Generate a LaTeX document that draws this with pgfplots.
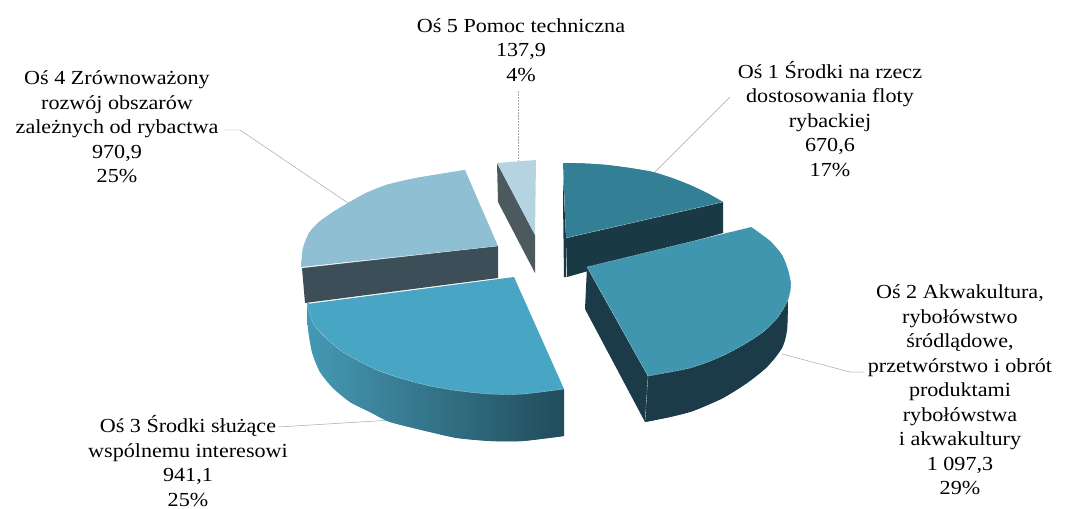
\documentclass[border=0pt]{standalone}
\usepackage{fontspec}
\setmainfont[FakeStretch=1.11]{Liberation Serif}
\usepackage{pgfplots}
\pgfplotsset{compat=1.18}
\definecolor{topa}{HTML}{337F96}\definecolor{sidea}{HTML}{193945}
\definecolor{topb}{HTML}{4095AF}\definecolor{sideb}{HTML}{1A3B47}
\definecolor{topc}{HTML}{48A6C4}\definecolor{sidecl}{HTML}{4599B4}\definecolor{sidecr}{HTML}{214C5B}
\definecolor{topd}{HTML}{8FBFD2}\definecolor{sided}{HTML}{3C4E57}
\definecolor{tope}{HTML}{B5D3E0}\definecolor{sidee}{HTML}{4C5A60}
\definecolor{lead}{HTML}{A6A6A6}
\begin{document}
\begin{tikzpicture}
\path[use as bounding box] (0,0) rectangle (1066bp,509bp);
\begin{axis}[at={(0,0)},anchor=south west,scale only axis,width=1066bp,height=509bp,
  xmin=0,xmax=1066,ymin=0,ymax=509,y dir=reverse,hide axis,clip=false,
  every axis plot/.append style={no markers,line width=0pt},
  edge/.style={white,opacity=0.55,line width=0.4pt,dash pattern=on 2pt off 1pt},
]
% leader lines
\addplot[lead,line width=0.5pt,densely dotted] coordinates {(518,160) (518,90)};
\addplot[lead,line width=0.5pt] coordinates {(348,203) (240,130) (224,130)};
\addplot[lead,line width=0.5pt] coordinates {(655,172) (730,97)};
\addplot[lead,line width=0.5pt] coordinates {(782,354) (850,372) (864,372)};
\addplot[lead,line width=0.5pt] coordinates {(392,420) (278,427)};
% slice 5
\addplot[draw=none,fill=sidee] coordinates {(497,163) (535,235) (535,273) (498,202)};
\addplot[draw=none,fill=tope] coordinates {(497,163) (536,160) (535,235)};
% slice 4
\addplot[draw=none,fill=sided] coordinates {(302,268) (498,246) (498,278) (305,303)};
\addplot[draw=none,fill=topd] coordinates {(498,246) (465,170) (416,178) (386,185) (366,193) (348,203) (333,212) (319,222) (309,233) (303,248) (301,267)};
\addplot[draw=none,fill=topd,smooth] coordinates {(465,170) (416,178) (386,185) (366,193) (348,203) (333,212) (319,222) (309,233) (303,248) (301,267)};
\addplot[edge] coordinates {(302,268) (498,246)};
% slice 3
\addplot[draw=none,left color=sidecl,right color=sidecr] coordinates {(307,303) (308,328) (312,352) (320,372) (333,388) (350,402) (370,412) (390,422) (430,432) (457,438) (490,441) (523,441) (564,436) (564,389)};
\addplot[draw=none,left color=sidecl,right color=sidecr,smooth] coordinates {(307,303) (308,328) (312,352) (320,372) (333,388) (350,402) (370,412) (390,422) (430,432) (457,438) (490,441) (523,441) (564,436)};
\addplot[draw=none,fill=topc] coordinates {(514,277) (564,389) (523,394) (490,394) (460,391) (430,386) (400,378) (377,370) (357,360) (340,350) (325,337) (313,323) (307,304)};
\addplot[draw=none,fill=topc,smooth] coordinates {(564,389) (523,394) (490,394) (460,391) (430,386) (400,378) (377,370) (357,360) (340,350) (325,337) (313,323) (307,304)};
\addplot[edge,smooth] coordinates {(564,389) (523,394) (490,394) (460,391) (430,386) (400,378) (377,370) (357,360) (340,350) (325,337) (313,323) (307,304)};
% slice 1
\addplot[draw=none,fill=sidea] coordinates {(566,238) (723,202) (723,233) (567,277)};
\addplot[draw=none,fill=sidea] coordinates {(563,175) (566,238) (566,277) (564,277) (563,200)};
\addplot[draw=none,fill=topa] coordinates {(563,163) (585,163.5) (607,165) (630,168) (653,172) (672,178) (690,185) (707,193) (723,202) (566,238)};
\addplot[draw=none,fill=topa,smooth] coordinates {(563,163) (585,163.5) (607,165) (630,168) (653,172) (672,178) (690,185) (707,193) (723,202)};
\addplot[edge] coordinates {(566,238) (723,202)};
% slice 2
\addplot[draw=none,fill=sideb] coordinates {(587,267) (648,376) (645,422) (585,309)};
\addplot[draw=none,fill=sideb] coordinates {(648,376) (788,300) (787,330) (782,348) (767,367) (747,383) (723,398) (693,411) (670,417) (645,422)};
\addplot[draw=none,fill=sideb,smooth] coordinates {(788,300) (787,330) (782,348) (767,367) (747,383) (723,398) (693,411) (670,417) (645,422)};
\addplot[draw=none,fill=topb] coordinates {(587,267) (751,227) (770,241) (782,255) (788,270) (791,285) (788,300) (778,317) (763,332) (743,345) (720,357) (690,368) (648,376)};
\addplot[draw=none,fill=topb,smooth] coordinates {(751,227) (770,241) (782,255) (788,270) (791,285) (788,300) (778,317) (763,332) (743,345) (720,357) (690,368) (648,376)};
\addplot[edge] coordinates {(648,376) (587,267) (751,227)};
\addplot[edge,smooth] coordinates {(791,285) (788,300) (778,317) (763,332) (743,345) (720,357) (690,368) (648,376)};
\addplot[edge] coordinates {(648,376) (645,422)};
% labels
\node[align=center,font=\fontsize{20}{24.6}\selectfont] at (axis cs:521,50) {Oś 5 Pomoc techniczna\\137,9\\4\%};
\node[align=center,font=\fontsize{20}{24.6}\selectfont] at (axis cs:117,127) {Oś 4 Zrównoważony\\rozwój obszarów\\zależnych od rybactwa\\970,9\\25\%};
\node[align=center,font=\fontsize{20}{24.6}\selectfont] at (axis cs:830,119) {Oś 1 Środki na rzecz\\dostosowania floty\\rybackiej\\670,6\\17\%};
\node[align=center,font=\fontsize{20}{24.6}\selectfont] at (axis cs:960,390) {Oś 2 Akwakultura,\\rybołówstwo\\śródlądowe,\\przetwórstwo i obrót\\produktami\\rybołówstwa\\i akwakultury\\1 097,3\\29\%};
\node[align=center,font=\fontsize{20}{24.6}\selectfont] at (axis cs:188,461) {Oś 3 Środki służące\\wspólnemu interesowi\\941,1\\25\%};
\end{axis}
\end{tikzpicture}
\end{document}
